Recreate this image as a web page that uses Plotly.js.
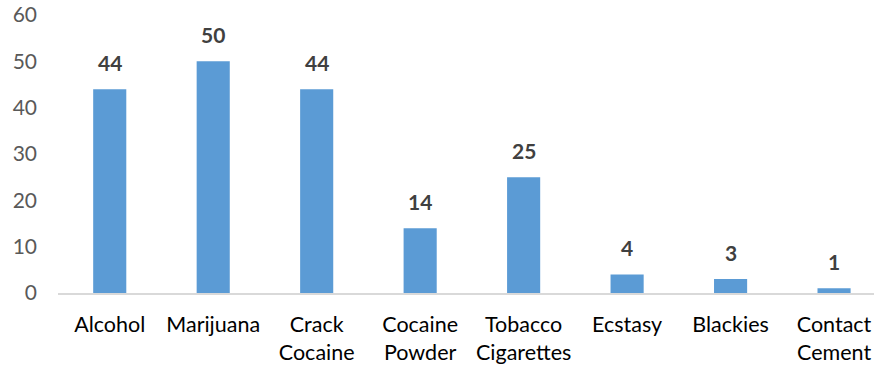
<!DOCTYPE html>
<html>
<head>
<meta charset="utf-8">
<script src="https://cdn.plot.ly/plotly-3.0.1.min.js"></script>
<style>
  html, body { margin: 0; padding: 0; background: #fff; }
  #chart { width: 874px; height: 368px; }
</style>
</head>
<body>
<div id="chart"></div>
<script>
// Substances reported
const categories = [
  "Alcohol", "Marijuana", "Crack<br>Cocaine", "Cocaine<br>Powder",
  "Tobacco<br>Cigarettes", "Ecstasy", "Blackies", "Contact<br>Cement"
];
const counts = [44, 50, 44, 14, 25, 4, 3, 1];
const yTicks = [0, 10, 20, 30, 40, 50, 60];

const FONT = "Lato, 'Open Sans', sans-serif";

const trace = {
  type: "bar",
  x: categories,
  y: counts,
  marker: { color: "#5B9BD5" },
  hoverinfo: "x+y"
};

// value labels above each bar
const labels = categories.map((c, i) => ({
  x: c,
  y: counts[i],
  text: String(counts[i]),
  showarrow: false,
  yanchor: "bottom",
  yshift: 12,
  font: { family: FONT, size: 21, color: "#404040", weight: 700 }
}));

const layout = {
  width: 874,
  height: 368,
  margin: { l: 58, r: 0, t: 15, b: 75 },
  paper_bgcolor: "#ffffff",
  plot_bgcolor: "#ffffff",
  bargap: 0.68,
  showlegend: false,
  xaxis: {
    type: "category",
    range: [-0.5, 7.386],
    showgrid: false,
    showline: true,
    linecolor: "#d9d9d9",
    linewidth: 1.5,
    ticks: "",
    ticklabelstandoff: 12,
    tickfont: { family: FONT, size: 21.5, color: "#000000" },
    fixedrange: true
  },
  yaxis: {
    range: [0, 60],
    tickvals: yTicks,
    showgrid: false,
    zeroline: false,
    showline: false,
    ticks: "",
    ticklabelstandoff: 20,
    tickfont: { family: FONT, size: 21, color: "#595959" },
    fixedrange: true
  },
  annotations: labels
};

Plotly.newPlot("chart", [trace], layout, { displayModeBar: false, staticPlot: true });
</script>
</body>
</html>
